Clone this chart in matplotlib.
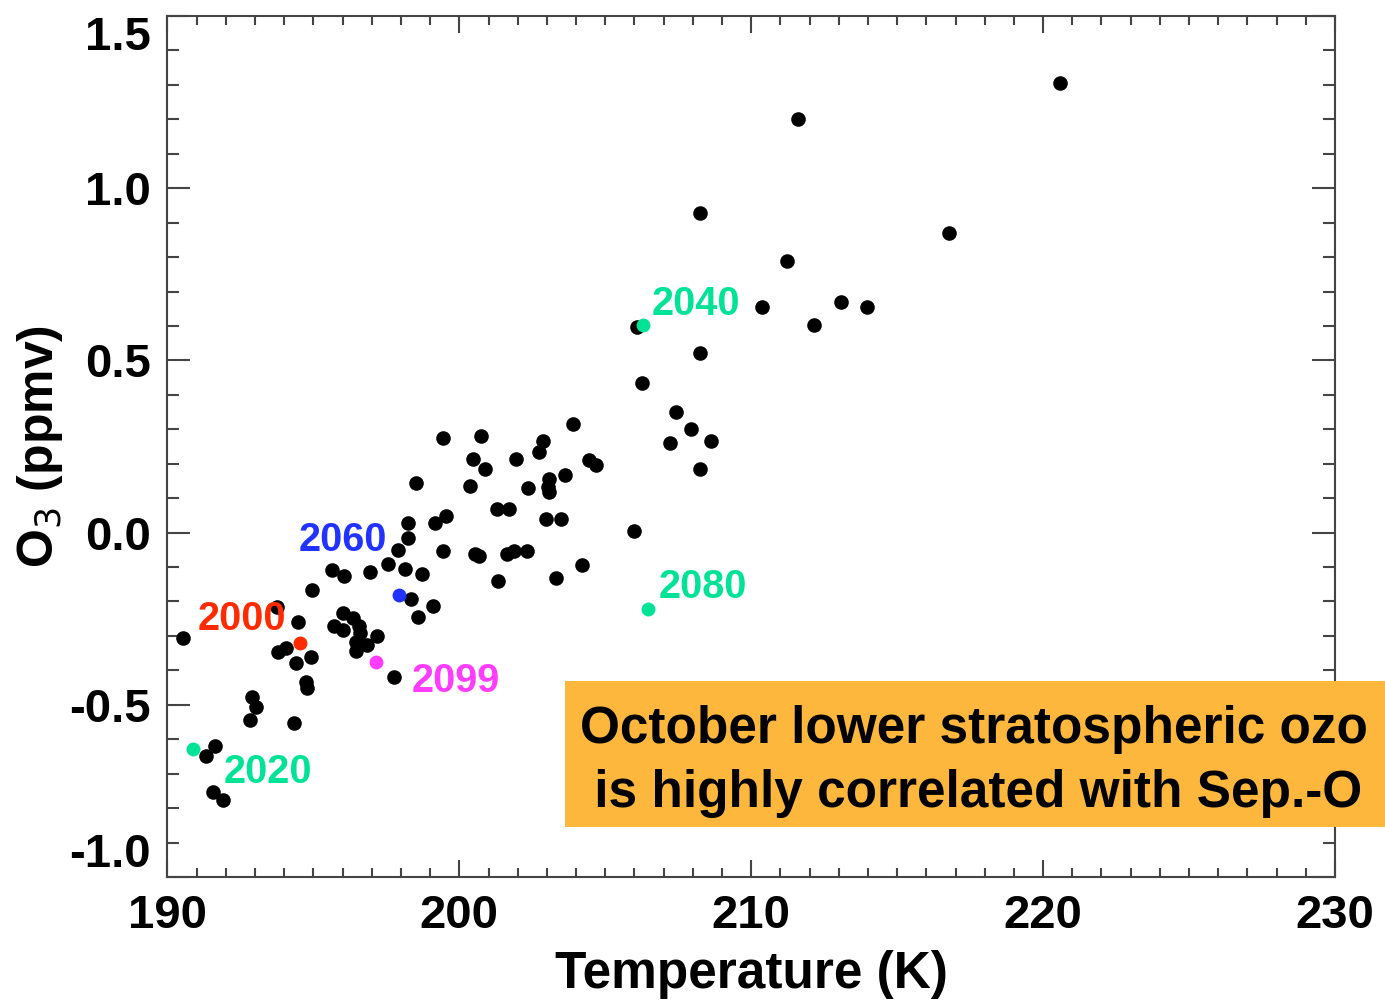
import numpy as np
import matplotlib.pyplot as plt
from matplotlib.patches import Rectangle
from matplotlib.ticker import MultipleLocator

plt.rcParams['font.family'] = ['Liberation Sans', 'DejaVu Sans']

# all years: Sep-Oct temperature (K) vs October O3 anomaly (ppmv)
temp = [190.52, 191.63, 191.31, 191.57, 191.91, 192.88, 193.02, 192.83, 194.34, 193.76,
        194.46, 193.80, 194.06, 194.39, 194.91, 194.73, 194.79, 194.94, 195.65, 196.05,
        196.94, 197.54, 198.14, 198.73, 197.91, 198.23, 198.25, 199.16, 199.56, 199.43,
        198.33, 199.11, 198.59, 196.02, 196.37, 195.70, 196.00, 196.56, 196.59, 196.46,
        196.82, 196.45, 197.19, 197.77, 199.43, 200.73, 203.90, 202.85, 202.73, 200.46,
        200.88, 201.94, 204.45, 204.68, 198.50, 200.36, 202.34, 203.07, 203.05, 203.07,
        203.63, 201.28, 201.70, 202.96, 203.48, 205.98, 200.53, 200.67, 201.64, 201.87,
        202.31, 201.31, 203.31, 204.19, 220.59, 211.61, 208.23, 216.78, 211.21, 210.38,
        213.07, 213.95, 212.15, 206.07, 208.23, 206.27, 207.42, 207.92, 207.21, 208.61,
        208.24]
o3 = [-0.307, -0.619, -0.649, -0.752, -0.775, -0.476, -0.507, -0.544, -0.552, -0.215,
      -0.259, -0.346, -0.334, -0.380, -0.360, -0.433, -0.450, -0.167, -0.109, -0.125,
      -0.113, -0.092, -0.107, -0.121, -0.051, -0.017, 0.029, 0.027, 0.048, -0.053,
      -0.194, -0.213, -0.244, -0.234, -0.249, -0.271, -0.283, -0.271, -0.292, -0.317,
      -0.326, -0.344, -0.300, -0.420, 0.274, 0.281, 0.315, 0.267, 0.235, 0.214,
      0.184, 0.214, 0.211, 0.196, 0.145, 0.135, 0.130, 0.156, 0.132, 0.119,
      0.167, 0.069, 0.069, 0.039, 0.039, 0.006, -0.063, -0.067, -0.063, -0.053,
      -0.053, -0.140, -0.133, -0.094, 1.305, 1.201, 0.927, 0.869, 0.790, 0.654,
      0.670, 0.654, 0.603, 0.598, 0.521, 0.433, 0.349, 0.301, 0.259, 0.267,
      0.184]

# highlighted years
years = ['2000', '2020', '2040', '2060', '2080', '2099']
year_temp = [194.54, 190.88, 206.30, 197.93, 206.45, 197.14]
year_o3 = [-0.322, -0.629, 0.603, -0.181, -0.222, -0.377]
year_colors = ['#ff2a00', '#00e396', '#00e396', '#2233ff', '#00e396', '#ff3cff']
label_temp = [191.04, 191.94, 206.60, 194.50, 206.84, 198.38]
label_o3 = [-0.283, -0.727, 0.632, -0.053, -0.190, -0.463]

note_lines = ['October lower stratospheric ozo', ' is highly correlated with Sep.-O']

fig = plt.figure(figsize=(13.85, 10), dpi=100)
ax = fig.add_axes([0.1209, 0.123, 0.843, 0.861])

ax.plot(temp, o3, 'o', color='black', markersize=10.5, markeredgewidth=0)
for i in range(len(years)):
    ax.plot(year_temp[i], year_o3[i], 'o', color=year_colors[i], markersize=10, markeredgewidth=0)
    ax.text(label_temp[i], label_o3[i], years[i], color=year_colors[i], fontsize=28.5,
            fontweight='bold', ha='left', va='baseline')

ax.set_xlim(190, 230)
ax.set_ylim(-1.0, 1.5)
ax.xaxis.set_major_locator(MultipleLocator(10))
ax.xaxis.set_minor_locator(MultipleLocator(1))
ax.yaxis.set_major_locator(MultipleLocator(0.5))
ax.yaxis.set_minor_locator(MultipleLocator(0.1))
ax.yaxis.set_major_formatter(plt.FormatStrFormatter('%.1f'))
ax.xaxis.set_major_formatter(plt.FormatStrFormatter('%d'))

ax.tick_params(axis='both', which='both', direction='in', top=True, right=True,
               color='#444444', width=1.5, labelsize=34)
ax.tick_params(axis='x', which='major', length=12, pad=12)
ax.tick_params(axis='x', which='minor', length=6.5)
ax.tick_params(axis='y', which='major', length=16.5, pad=12)
ax.tick_params(axis='y', which='minor', length=8.5)
for lab in ax.get_xticklabels() + ax.get_yticklabels():
    lab.set_fontweight('bold')
# end labels on y kept inside the frame, like the original
for tick in ax.yaxis.get_major_ticks():
    if abs(tick.get_loc() - 1.5) < 1e-6:
        tick.label1.set_va('top')
    elif abs(tick.get_loc() + 1.0) < 1e-6:
        tick.label1.set_va('bottom')
for sp in ax.spines.values():
    sp.set_color('#444444')
    sp.set_linewidth(1.5)

ax.set_xlabel('Temperature (K)', fontsize=37, fontweight='bold', labelpad=9)
ax.set_ylabel('O$_3$ (ppmv)', fontsize=36, fontweight='bold', labelpad=3)

# orange note box, runs off the right edge of the figure
fig.patches.append(Rectangle((565 / 1385, 0.173), 0.7, 0.146, transform=fig.transFigure,
                             facecolor='#fdb73c', edgecolor='none', zorder=5))
fig.text(580 / 1385, 1 - 743 / 1000, note_lines[0], fontsize=37, fontweight='bold',
         va='baseline', zorder=6)
fig.text(580 / 1385, 1 - 807 / 1000, note_lines[1], fontsize=37, fontweight='bold',
         va='baseline', zorder=6)

fig.savefig('out.png', dpi=100)
